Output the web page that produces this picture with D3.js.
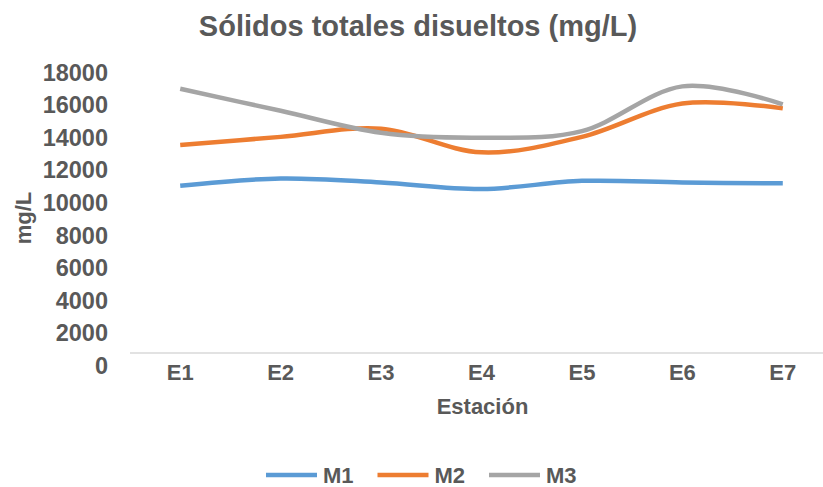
<!DOCTYPE html>
<html>
<head>
<meta charset="utf-8">
<script src="https://cdn.jsdelivr.net/npm/d3@7"></script>
<style>
  html, body { margin: 0; padding: 0; background: #fff; }
  svg { display: block; }
  text { font-family: "Liberation Sans", Arial, sans-serif; font-weight: bold; fill: #595959; }
</style>
</head>
<body>
<svg id="chart" width="823" height="487"></svg>
<script>
// Estaciones de muestreo y valores de sólidos totales disueltos (mg/L)
const stations = ["E1", "E2", "E3", "E4", "E5", "E6", "E7"];
const m1 = [11000, 11450, 11200, 10800, 11300, 11200, 11150];
const m2 = [13500, 14000, 14500, 13050, 14000, 16050, 15750];
const m3 = [16950, 15600, 14250, 13950, 14350, 17100, 16000];
const seriesNames = ["M1", "M2", "M3"];
const yTicks = [0, 2000, 4000, 6000, 8000, 10000, 12000, 14000, 16000, 18000];

const colors = { M1: "#5B9BD5", M2: "#ED7D31", M3: "#A5A5A5" };
const series = [
  { name: "M1", values: m1 },
  { name: "M2", values: m2 },
  { name: "M3", values: m3 }
];

const svg = d3.select("#chart");

const plot = { left: 130, right: 833, top: 71.7, bottom: 365 };

const x = d3.scaleBand().domain(stations).range([plot.left, plot.right]);
const y = d3.scaleLinear().domain([0, 18000]).range([plot.bottom, plot.top]);
const cx = d => x(d) + x.bandwidth() / 2;

// Title
svg.append("text")
  .attr("x", 418).attr("y", 36)
  .attr("text-anchor", "middle")
  .style("font-size", "29px")
  .text("Sólidos totales disueltos (mg/L)");

// Category axis line
const axisLineY = 353;
svg.append("line")
  .attr("x1", plot.left).attr("x2", 823)
  .attr("y1", axisLineY).attr("y2", axisLineY)
  .attr("stroke", "#D9D9D9").attr("stroke-width", 1.5);

// Value axis labels
const yAxis = svg.append("g")
  .attr("transform", "translate(108,0)")
  .call(d3.axisLeft(y).tickValues(yTicks).tickSize(0).tickPadding(0).tickFormat(d3.format("d")));
yAxis.select(".domain").remove();
yAxis.selectAll("text")
  .attr("dy", "0.36em")
  .style("font-size", "23.5px")
  .style("font-family", "'Liberation Sans', Arial, sans-serif")
  .attr("fill", "#595959");

// Category axis labels
const xAxis = svg.append("g")
  .attr("transform", `translate(0,${axisLineY})`)
  .call(d3.axisBottom(x).tickSize(0).tickPadding(0));
xAxis.select(".domain").remove();
xAxis.selectAll("text")
  .attr("y", 27).attr("dy", 0)
  .style("font-size", "22px")
  .style("font-family", "'Liberation Sans', Arial, sans-serif")
  .attr("fill", "#595959");

// Axis titles
svg.append("text")
  .attr("x", 482.5).attr("y", 414)
  .attr("text-anchor", "middle")
  .style("font-size", "22px")
  .text("Estación");

svg.append("text")
  .attr("transform", "translate(31,218) rotate(-90)")
  .attr("text-anchor", "middle")
  .style("font-size", "22px")
  .text("mg/L");

// Smoothed series lines
const line = d3.line()
  .x((d, i) => cx(stations[i]))
  .y(d => y(d))
  .curve(d3.curveCardinal.tension(0));

svg.append("g").selectAll("path")
  .data(series)
  .join("path")
  .attr("d", d => line(d.values))
  .attr("fill", "none")
  .attr("stroke", d => colors[d.name])
  .attr("stroke-width", 4.5)
  .attr("stroke-linejoin", "round");

// Legend
const legendX = d3.scalePoint().domain(seriesNames).range([266, 489]);
const legend = svg.append("g").selectAll("g")
  .data(seriesNames)
  .join("g")
  .attr("transform", d => `translate(${legendX(d)},475)`);
legend.append("line")
  .attr("x1", 0).attr("x2", 51)
  .attr("stroke", d => colors[d]).attr("stroke-width", 4.5);
legend.append("text")
  .attr("x", 57).attr("dy", "0.36em")
  .style("font-size", "22px")
  .text(d => d);
</script>
</body>
</html>
